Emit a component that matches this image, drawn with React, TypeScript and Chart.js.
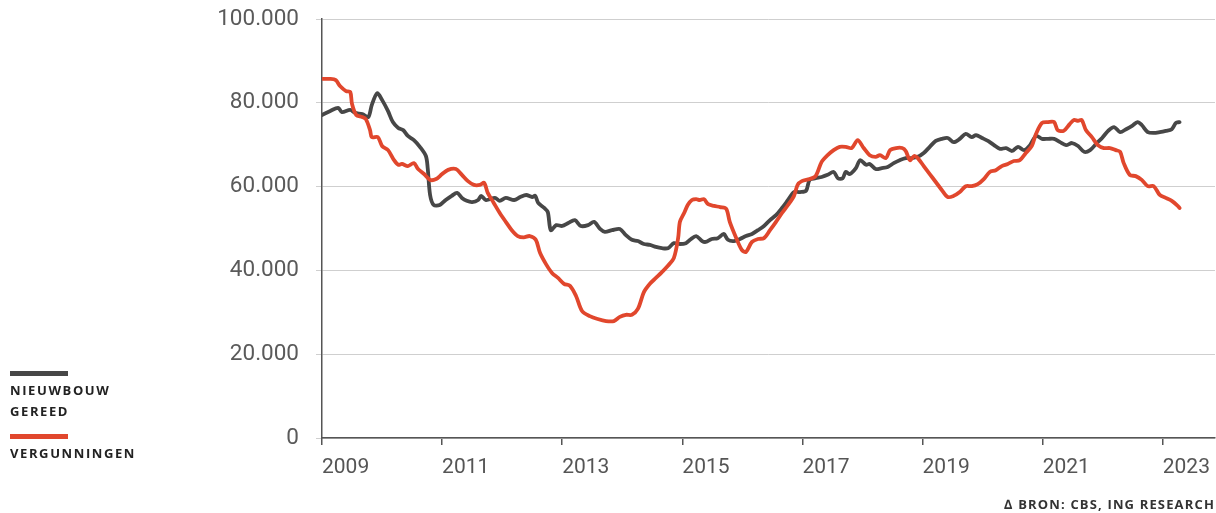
import { useEffect, useRef } from "react";
import { Chart, registerables } from "chart.js";

Chart.register(...registerables);

// x tick years and y tick values / labels
const xTickYears = [2009, 2011, 2013, 2015, 2017, 2019, 2021, 2023];
const yTickValues = [0, 20000, 40000, 60000, 80000, 100000];
const yTickLabels = ["0", "20.000", "40.000", "60.000", "80.000", "100.000"];

// Nieuwbouw gereed (thousands of dwellings, 12-month moving total)
const nbYears = [
  2009.0, 2009.13, 2009.27, 2009.33, 2009.47, 2009.55, 2009.67, 2009.77, 2009.83, 2009.92,
  2010.0, 2010.1, 2010.18, 2010.27, 2010.35, 2010.43, 2010.53, 2010.63, 2010.73, 2010.76, 2010.8, 2010.86, 2010.96,
  2011.06, 2011.16, 2011.25, 2011.33, 2011.41, 2011.5, 2011.6, 2011.65, 2011.73, 2011.88, 2011.96,
  2012.06, 2012.2, 2012.3, 2012.4, 2012.5, 2012.55, 2012.6, 2012.7, 2012.76, 2012.81, 2012.9,
  2013.0, 2013.1, 2013.21, 2013.31, 2013.43, 2013.53, 2013.63, 2013.71, 2013.83, 2013.96,
  2014.06, 2014.16, 2014.26, 2014.36, 2014.46, 2014.56, 2014.66, 2014.76, 2014.86, 2014.96,
  2015.06, 2015.13, 2015.23, 2015.33, 2015.39, 2015.49, 2015.59, 2015.69, 2015.76, 2015.86, 2015.96,
  2016.06, 2016.16, 2016.26, 2016.36, 2016.46, 2016.56, 2016.66, 2016.76, 2016.86, 2016.96,
  2017.06, 2017.12, 2017.22, 2017.32, 2017.42, 2017.52, 2017.59, 2017.67, 2017.72, 2017.79, 2017.89, 2017.96,
  2018.06, 2018.12, 2018.22, 2018.32, 2018.42, 2018.52, 2018.62, 2018.72, 2018.82, 2018.92,
  2019.02, 2019.12, 2019.22, 2019.32, 2019.42, 2019.52, 2019.62, 2019.72, 2019.82, 2019.89, 2019.99,
  2020.09, 2020.19, 2020.29, 2020.39, 2020.49, 2020.59, 2020.69, 2020.79, 2020.89, 2020.99,
  2021.09, 2021.19, 2021.29, 2021.39, 2021.49, 2021.59, 2021.69, 2021.79, 2021.89, 2021.99,
  2022.09, 2022.19, 2022.29, 2022.39, 2022.49, 2022.58, 2022.65, 2022.75, 2022.85, 2022.95,
  2023.05, 2023.15, 2023.22, 2023.28,
];
const nbValues = [
  77.1, 78.0, 78.8, 77.8, 78.3, 77.6, 77.3, 76.6, 79.5, 82.3,
  80.7, 78.0, 75.4, 74.0, 73.5, 72.1, 71.1, 69.5, 67.3, 64.4, 58.0, 55.6, 55.6,
  56.8, 57.8, 58.5, 57.3, 56.6, 56.3, 56.8, 57.8, 56.8, 57.3, 56.6,
  57.3, 56.8, 57.5, 58.0, 57.5, 57.8, 56.1, 54.9, 53.9, 49.6, 50.8,
  50.6, 51.3, 52.0, 50.6, 50.8, 51.6, 49.9, 49.2, 49.6, 49.9,
  48.4, 47.3, 47.0, 46.3, 46.1, 45.6, 45.3, 45.3, 46.5, 46.3,
  46.5, 47.3, 48.2, 47.0, 46.8, 47.5, 47.7, 48.7, 47.3, 47.0, 47.5,
  48.2, 48.7, 49.6, 50.6, 52.0, 53.2, 54.9, 56.8, 58.7, 58.7,
  59.0, 61.6, 62.0, 62.3, 62.8, 63.5, 62.0, 62.0, 63.5, 63.0, 64.4, 66.3,
  65.2, 65.4, 64.2, 64.4, 64.7, 65.6, 66.3, 66.8, 66.8, 67.1,
  68.0, 69.5, 70.9, 71.4, 71.6, 70.6, 71.4, 72.6, 71.8, 72.3, 71.6,
  70.9, 69.9, 69.0, 69.2, 68.5, 69.5, 68.7, 69.9, 72.1, 71.4,
  71.4, 71.4, 70.6, 69.9, 70.4, 69.7, 68.3, 68.7, 70.2, 71.6,
  73.3, 74.2, 73.0, 73.7, 74.5, 75.4, 74.7, 73.0, 72.8, 73.0,
  73.3, 73.7, 75.2, 75.4,
];

// Vergunningen (thousands)
const vgYears = [
  2009.0, 2009.13, 2009.23, 2009.3, 2009.4, 2009.47, 2009.5, 2009.57, 2009.67, 2009.73, 2009.8, 2009.83, 2009.93,
  2010.0, 2010.1, 2010.2, 2010.27, 2010.33, 2010.43, 2010.53, 2010.6, 2010.7, 2010.8, 2010.9,
  2011.0, 2011.1, 2011.23, 2011.33, 2011.43, 2011.53, 2011.63, 2011.7, 2011.76, 2011.86, 2011.96,
  2012.06, 2012.16, 2012.26, 2012.36, 2012.46, 2012.56, 2012.63, 2012.73, 2012.83, 2012.93,
  2013.03, 2013.13, 2013.23, 2013.33, 2013.46, 2013.59, 2013.73, 2013.86, 2013.96,
  2014.06, 2014.16, 2014.26, 2014.36, 2014.46, 2014.56, 2014.66, 2014.76, 2014.86, 2014.93, 2014.96,
  2015.03, 2015.09, 2015.16, 2015.23, 2015.29, 2015.36, 2015.43, 2015.53, 2015.63, 2015.73, 2015.79, 2015.89, 2015.99,
  2016.06, 2016.16, 2016.26, 2016.36, 2016.46, 2016.56, 2016.66, 2016.76, 2016.86, 2016.92, 2016.99,
  2017.12, 2017.22, 2017.32, 2017.42, 2017.52, 2017.62, 2017.72, 2017.82, 2017.92,
  2018.02, 2018.12, 2018.22, 2018.29, 2018.39, 2018.46, 2018.56, 2018.66, 2018.72, 2018.79, 2018.86, 2018.92,
  2019.02, 2019.12, 2019.22, 2019.32, 2019.42, 2019.52, 2019.62, 2019.72, 2019.82, 2019.92,
  2020.02, 2020.12, 2020.22, 2020.32, 2020.42, 2020.52, 2020.62, 2020.72, 2020.82, 2020.89, 2020.99,
  2021.09, 2021.19, 2021.25, 2021.35, 2021.45, 2021.52, 2021.59, 2021.65, 2021.72, 2021.82, 2021.92,
  2022.02, 2022.12, 2022.22, 2022.29, 2022.35, 2022.45, 2022.55, 2022.65, 2022.75, 2022.85, 2022.95,
  2023.05, 2023.15, 2023.25, 2023.28,
];
const vgValues = [
  85.7, 85.7, 85.4, 84.0, 82.8, 82.6, 79.7, 77.1, 76.6, 76.1, 73.5, 71.8, 71.8,
  69.7, 68.7, 66.3, 65.2, 65.4, 64.9, 65.6, 64.2, 63.0, 61.6, 61.8,
  63.0, 64.0, 64.2, 62.8, 61.3, 60.4, 60.4, 60.9, 58.5, 56.1, 53.7,
  51.6, 49.6, 48.2, 47.9, 48.2, 47.3, 44.2, 41.5, 39.4, 38.2,
  36.8, 36.3, 33.9, 30.3, 29.1, 28.4, 27.9, 27.9, 28.9,
  29.4, 29.4, 30.8, 34.8, 36.8, 38.2, 39.6, 41.1, 43.0, 47.7, 51.6,
  53.7, 55.6, 56.8, 57.0, 56.8, 57.0, 55.8, 55.4, 55.1, 54.7, 51.6, 48.0, 44.9,
  44.4, 46.8, 47.5, 47.7, 49.6, 51.6, 53.7, 55.6, 57.8, 60.4, 61.3,
  61.8, 62.5, 65.9, 67.5, 68.7, 69.5, 69.5, 69.2, 71.1,
  69.2, 67.5, 67.1, 67.5, 66.8, 68.7, 69.2, 69.2, 68.5, 66.3, 67.3, 66.8,
  64.9, 63.0, 61.1, 59.2, 57.5, 57.8, 58.7, 60.1, 60.1, 60.6,
  61.8, 63.5, 63.9, 64.9, 65.4, 66.1, 66.3, 68.0, 69.7, 72.6, 75.2,
  75.4, 75.4, 73.5, 73.3, 74.9, 75.9, 75.7, 75.9, 73.5, 71.8, 69.9,
  69.2, 69.2, 68.7, 68.3, 65.6, 62.8, 62.5, 61.6, 60.1, 60.1, 58.0,
  57.3, 56.6, 55.4, 54.9,
];

const GREY = "#474747";
const RED = "#e1472d";

export default function App() {
  const ref = useRef<HTMLCanvasElement>(null);

  useEffect(() => {
    if (!ref.current) return;
    const toPoints = (xs: number[], ys: number[]) => xs.map((x, i) => ({ x, y: ys[i] * 1000 }));
    const chart = new Chart(ref.current, {
      type: "line",
      data: {
        datasets: [
          { label: "Vergunningen", data: toPoints(vgYears, vgValues), borderColor: RED, backgroundColor: RED },
          { label: "Nieuwbouw gereed", data: toPoints(nbYears, nbValues), borderColor: GREY, backgroundColor: GREY },
        ],
      },
      options: {
        responsive: false,
        animation: false,
        layout: { padding: { top: 19, right: 1, left: 0, bottom: 0 } },
        plugins: { legend: { display: false }, tooltip: { enabled: false } },
        elements: {
          point: { radius: 0 },
          line: { tension: 0.3, borderWidth: 3.8, borderCapStyle: "round", borderJoinStyle: "round" },
        },
        scales: {
          x: {
            type: "linear",
            min: 2009,
            max: 2023.87,
            afterBuildTicks: (s: any) => {
              s.ticks = xTickYears.map((v) => ({ value: v }));
            },
            afterFit: (s: any) => {
              s.height = 75;
              s.paddingLeft = 0;
              s.paddingRight = 0;
            },
            grid: { drawOnChartArea: false, drawTicks: true, tickLength: 7, color: "#555", lineWidth: 1.5 },
            border: { color: "#555", width: 1.5 },
            ticks: {
              align: "start",
              padding: 10,
              maxRotation: 0,
              autoSkip: false,
              color: "#555",
              font: { family: "Roboto", size: 21 },
              callback: (v: any) => String(v),
            },
          },
          y: {
            min: 0,
            max: 100000,
            afterBuildTicks: (s: any) => {
              s.ticks = yTickValues.map((v) => ({ value: v }));
            },
            afterFit: (s: any) => {
              s.width = 322;
              s.paddingTop = 0;
              s.paddingBottom = 0;
            },
            grid: { color: "#cfcfcf", lineWidth: 1, tickLength: 6 },
            border: { color: "#555", width: 1.5 },
            ticks: {
              padding: 17,
              color: "#5a5a5a",
              font: { family: "Roboto", size: 22.5 },
              callback: (_v: any, i: number) => yTickLabels[i],
            },
          },
        },
      },
    });
    return () => chart.destroy();
  }, []);

  const labelStyle: React.CSSProperties = {
    position: "absolute",
    left: 10,
    fontFamily: "'Open Sans', sans-serif",
    fontWeight: 700,
    fontSize: 13,
    lineHeight: "21px",
    letterSpacing: "1.6px",
    color: "#222",
    whiteSpace: "nowrap",
  };

  return (
    <div style={{ position: "absolute", left: 0, top: 0, width: 1216, height: 513, background: "#fff", overflow: "hidden" }}>
      <canvas ref={ref} width={1216} height={513} style={{ position: "absolute", left: 0, top: 0, width: 1216, height: 513 }} />
      <div style={{ position: "absolute", left: 10, top: 371, width: 58, height: 5, background: GREY }} />
      <div style={{ ...labelStyle, top: 380 }}>
        NIEUWBOUW
        <br />
        GEREED
      </div>
      <div style={{ position: "absolute", left: 10, top: 434, width: 58, height: 5, background: RED }} />
      <div style={{ ...labelStyle, top: 443 }}>VERGUNNINGEN</div>
      <div
        style={{
          position: "absolute",
          right: 1,
          top: 494,
          fontFamily: "'Open Sans', sans-serif",
          fontWeight: 700,
          fontSize: 13,
          lineHeight: "21px",
          letterSpacing: "1.15px",
          color: "#333",
          whiteSpace: "nowrap",
        }}
      >
        ∆ BRON: CBS, ING RESEARCH
      </div>
    </div>
  );
}
